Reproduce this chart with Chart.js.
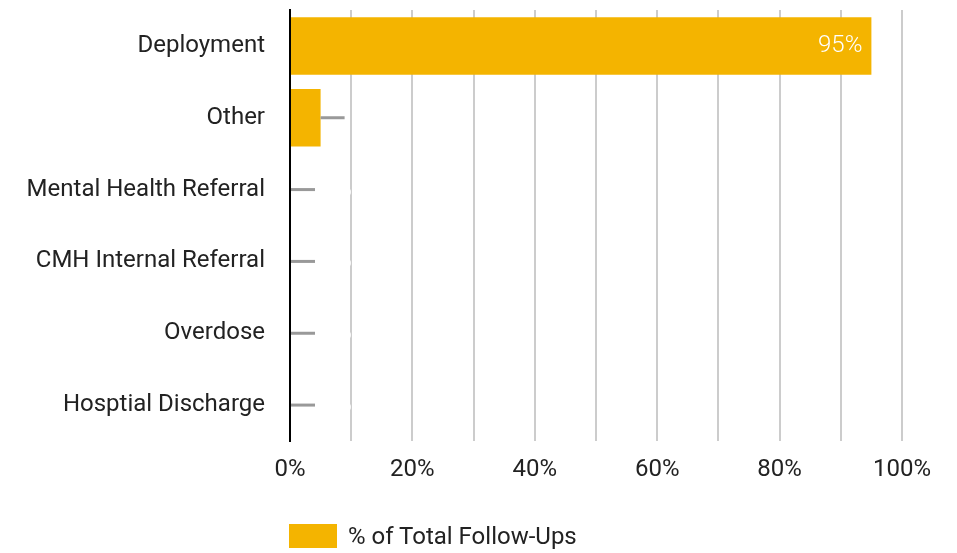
<!DOCTYPE html>
<html>
<head>
<meta charset="utf-8">
<script src="https://cdn.jsdelivr.net/npm/chart.js@4"></script>
<style>
  html, body { margin: 0; padding: 0; background: #fff; }
  #wrap { position: relative; width: 957px; height: 553px; }
  #legend { position: absolute; left: 289px; top: 524px; height: 24px; display: flex; align-items: center;
            font-family: Roboto, sans-serif; font-size: 24px; color: #222; }
  #legend .box { width: 48px; height: 24px; margin-right: 11px; }
</style>
</head>
<body>
<div id="wrap">
  <canvas id="c" width="957" height="553"></canvas>
  <div id="legend"><span class="box"></span><span id="legendText"></span></div>
</div>
<script>
const categories = ['Deployment', 'Other', 'Mental Health Referral', 'CMH Internal Referral', 'Overdose', 'Hosptial Discharge'];
const followUpShare = [95, 5, 0, 0, 0, 0];
const xTicks = [0, 20, 40, 60, 80, 100];
const seriesName = '% of Total Follow-Ups';
const barColor = '#F4B400';

document.querySelector('#legend .box').style.background = barColor;
document.getElementById('legendText').textContent = seriesName;

// Leader lines and value labels next to each bar
const valueLabels = {
  id: 'valueLabels',
  afterDatasetsDraw(chart) {
    const ctx = chart.ctx;
    const meta = chart.getDatasetMeta(0);
    const xs = chart.scales.x;
    meta.data.forEach((bar, i) => {
      const v = followUpShare[i];
      const text = v + '%';
      ctx.save();
      ctx.font = '300 24px Roboto, sans-serif';
      ctx.textBaseline = 'middle';
      ctx.fillStyle = '#ffffff';
      const inside = v > 50;
      if (inside) {
        ctx.textAlign = 'right';
        ctx.fillText(text, bar.x - 9, bar.y);
      } else {
        const x0 = Math.max(bar.x, xs.getPixelForValue(0) + 1);
        ctx.strokeStyle = '#999999';
        ctx.lineWidth = 3;
        ctx.beginPath();
        ctx.moveTo(x0, bar.y);
        ctx.lineTo(x0 + 24, bar.y);
        ctx.stroke();
        ctx.textAlign = 'left';
        ctx.fillText(text, x0 + 30, bar.y);
      }
      ctx.restore();
    });
  }
};

new Chart(document.getElementById('c'), {
  type: 'bar',
  data: {
    labels: categories,
    datasets: [{
      label: seriesName,
      data: followUpShare,
      backgroundColor: barColor,
      borderWidth: 0,
      barPercentage: 0.8,
      categoryPercentage: 1.0
    }]
  },
  options: {
    indexAxis: 'y',
    responsive: false,
    animation: false,
    layout: { padding: { top: 10, right: 55, bottom: 0, left: 0 } },
    plugins: {
      legend: { display: false },
      tooltip: { enabled: false }
    },
    scales: {
      x: {
        min: 0,
        max: 100,
        afterBuildTicks(scale) {
          const t = [];
          for (let v = 0; v <= 100; v += 10) t.push({ value: v });
          scale.ticks = t;
        },
        afterFit(scale) { scale.height = 112; },
        grid: { color: '#cccccc', lineWidth: 2, drawTicks: false },
        border: { display: false },
        ticks: {
          padding: 15,
          autoSkip: false,
          maxRotation: 0,
          color: '#222222',
          font: { family: 'Roboto, sans-serif', size: 24 },
          callback: (v) => xTicks.includes(v) ? v + '%' : ''
        }
      },
      y: {
        afterFit(scale) {
          scale.width = 290;
          scale.paddingTop = 0;
          scale.paddingBottom = 0;
        },
        grid: { display: false, drawTicks: false },
        border: { display: true, color: '#000000', width: 2 },
        ticks: {
          padding: 25,
          color: '#222222',
          font: { family: 'Roboto, sans-serif', size: 24 }
        }
      }
    }
  },
  plugins: [valueLabels]
});
</script>
</body>
</html>
